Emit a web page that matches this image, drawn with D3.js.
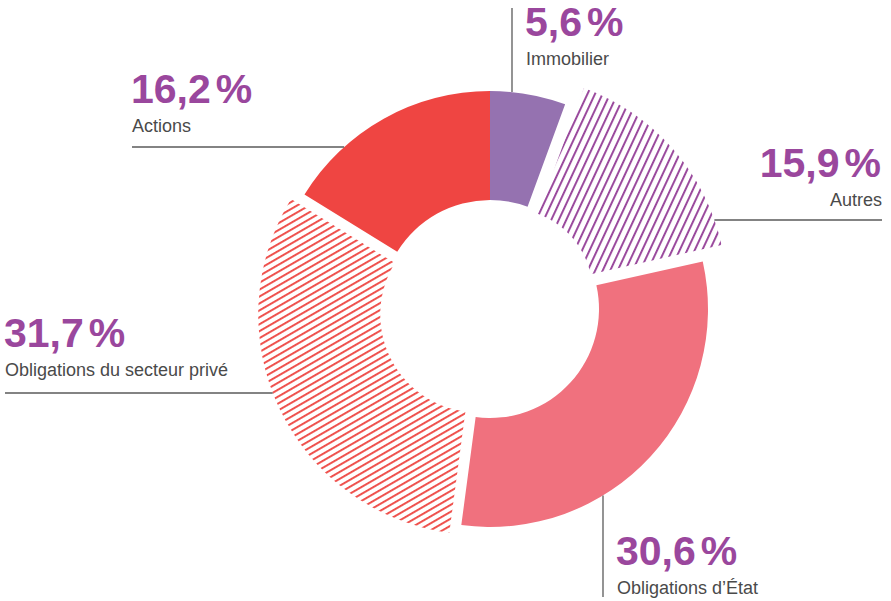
<!DOCTYPE html>
<html>
<head>
<meta charset="utf-8">
<script src="https://cdn.jsdelivr.net/npm/d3@7"></script>
<style>
  body { margin: 0; background: #fff; }
  svg { display: block; }
</style>
</head>
<body>
<div id="wrapper"></div>
<script>
// data
const categories = ["Immobilier", "Autres", "Obligations d’État", "Obligations du secteur privé", "Actions"]
const values = [5.6, 15.9, 30.6, 31.7, 16.2]
const valueLabels = ["5,6", "15,9", "30,6", "31,7", "16,2"]

// slice styles (same order as categories)
const sliceStyle = [
  { fill: "#9572b0", hatch: null, explode: 0, inner: 109, outer: 218 },
  { fill: "#9a4a9d", hatch: "hatch-purple", explode: 25, inner: 84, outer: 218 },
  { fill: "#f0717e", hatch: null, explode: 0, inner: 109, outer: 218 },
  { fill: "#ee4a46", hatch: "hatch-red", explode: 13, inner: 98, outer: 220 },
  { fill: "#ef4542", hatch: null, explode: 0, inner: 109, outer: 218 },
]

// label layout: leader "v" = vertical line at x, "h" = horizontal line at y
const labelLayout = [
  { x: 525, y: 36, anchor: "start", leader: "v", at: 512, from: 8 },
  { x: 881, y: 177, anchor: "end", leader: "h", at: 220, from: 882 },
  { x: 616, y: 565, anchor: "start", leader: "v", at: 603, from: 597 },
  { x: 4, y: 347, anchor: "start", leader: "h", at: 393, from: 5 },
  { x: 131, y: 103, anchor: "start", leader: "h", at: 147, from: 132 },
]

const dim = { width: 891, height: 601, cx: 490, cy: 309 }

const svg = d3.select("#wrapper")
  .append("svg")
  .attr("width", dim.width)
  .attr("height", dim.height)

// hatch patterns
const defs = svg.append("defs")
function addHatch(id, color, gap, lw, angle) {
  const p = defs.append("pattern")
    .attr("id", id)
    .attr("patternUnits", "userSpaceOnUse")
    .attr("width", gap)
    .attr("height", gap)
    .attr("patternTransform", `rotate(${angle})`)
  p.append("rect")
    .attr("x", 0).attr("y", 0)
    .attr("width", lw).attr("height", gap)
    .attr("fill", color)
}
addHatch("hatch-purple", "#9a4a9d", 6.8, 2, 25)
addHatch("hatch-red", "#ee4a46", 6.0, 1.9, 60)

const pie = d3.pie().sort(null).value(d => d)
const arcs = pie(values)

const chart = svg.append("g")

function sliceCenter(i) {
  const a = arcs[i]
  const mid = (a.startAngle + a.endAngle) / 2
  const e = sliceStyle[i].explode
  return { x: dim.cx + e * Math.sin(mid), y: dim.cy - e * Math.cos(mid) }
}

arcs.forEach((a, i) => {
  const s = sliceStyle[i]
  const c = sliceCenter(i)
  const arc = d3.arc().innerRadius(s.inner).outerRadius(s.outer)
  chart.append("path")
    .attr("transform", `translate(${c.x},${c.y})`)
    .attr("d", arc(a))
    .attr("fill", s.hatch ? `url(#${s.hatch})` : s.fill)
})

// leaders and labels
const labels = svg.append("g")
labelLayout.forEach((l, i) => {
  const c = sliceCenter(i)
  const R = sliceStyle[i].outer
  let x1, y1, x2, y2
  if (l.leader === "v") {
    const dy = Math.sqrt(R * R - (l.at - c.x) ** 2)
    x1 = x2 = l.at
    y1 = l.from
    y2 = l.from < c.y ? c.y - dy : c.y + dy
  } else {
    const dx = Math.sqrt(R * R - (l.at - c.y) ** 2)
    y1 = y2 = l.at
    x1 = l.from
    x2 = l.from < c.x ? c.x - dx : c.x + dx
  }
  labels.append("line")
    .attr("x1", x1).attr("y1", y1)
    .attr("x2", x2).attr("y2", y2)
    .attr("stroke", "#5a5a5a")
    .attr("stroke-width", 1.3)

  const pct = labels.append("text")
    .attr("x", l.x)
    .attr("y", l.y)
    .attr("text-anchor", l.anchor)
    .attr("font-family", "Liberation Sans, Arial, sans-serif")
    .attr("font-weight", "bold")
    .attr("font-size", 41)
    .attr("fill", "#9a479d")
  pct.append("tspan").text(valueLabels[i])
  pct.append("tspan").attr("dx", 5).text("%")

  labels.append("text")
    .attr("x", l.x + 1)
    .attr("y", l.y + 29)
    .attr("text-anchor", l.anchor)
    .attr("font-family", "Liberation Sans, Arial, sans-serif")
    .attr("font-size", 18)
    .attr("fill", "#4a4a4a")
    .text(categories[i])
})
</script>
</body>
</html>
